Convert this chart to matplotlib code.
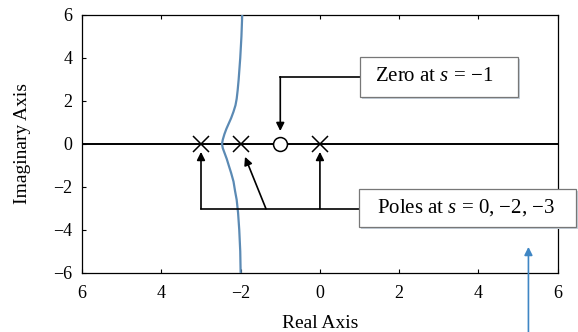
import matplotlib
matplotlib.use("Agg")
import matplotlib.pyplot as plt
from matplotlib.patches import Rectangle
from matplotlib.transforms import ScaledTranslation

plt.rcParams["font.family"] = ["Liberation Serif", "DejaVu Serif"]
plt.rcParams["mathtext.fontset"] = "custom"
plt.rcParams["mathtext.rm"] = "Liberation Serif"
plt.rcParams["mathtext.it"] = "Liberation Serif:italic"

# open-loop poles and zero
poles = [0, -2, -3]
zeros = [-1]

# root locus branches (real, imag)
upper_re = [-2.47, -2.45, -2.41, -2.36, -2.30, -2.24, -2.18, -2.13, -2.10, -2.075, -2.05, -2.01, -1.98, -1.96]
upper_im = [0.0, 0.2, 0.45, 0.7, 0.95, 1.2, 1.5, 1.8, 2.1, 2.5, 3.0, 4.0, 5.0, 6.0]
lower_re = [-2.47, -2.45, -2.40, -2.35, -2.30, -2.24, -2.18, -2.14, -2.10, -2.065, -2.035, -2.01, -2.00]
lower_im = [0.0, -0.2, -0.45, -0.7, -1.0, -1.35, -1.75, -2.2, -2.6, -3.2, -4.0, -5.0, -6.0]

xticks = [-6, -4, -2, 0, 2, 4, 6]
xtick_labels = ["6", "4", "\u22122", "0", "2", "4", "6"]
yticks = [-6, -4, -2, 0, 2, 4, 6]
ytick_labels = ["\u22126", "\u22124", "\u22122", "0", "2", "4", "6"]

locus_color = "#5b8ab4"
arrow_blue = "#3f86c4"

fig = plt.figure(figsize=(5.78, 3.32), dpi=100)
ax = fig.add_axes([0.142, 0.178, 0.823, 0.777])

ax.axhline(0, color="black", lw=1.4, zorder=2)
ax.plot(upper_re, upper_im, color=locus_color, lw=1.6, zorder=3)
ax.plot(lower_re, lower_im, color=locus_color, lw=1.6, zorder=3)

ax.plot(poles, [0] * len(poles), linestyle="none", marker="x", ms=11,
        mew=1.1, color="black", zorder=5)
ax.plot(zeros, [0] * len(zeros), linestyle="none", marker="o", ms=10,
        mew=1.1, mfc="white", mec="black", zorder=5)

ax.set_xlim(-6, 6)
ax.set_ylim(-6, 6)
ax.set_xticks(xticks)
ax.set_xticklabels(xtick_labels)
ax.set_yticks(yticks)
ax.set_yticklabels(ytick_labels)
ax.tick_params(direction="in", length=3, width=0.8, labelsize=13,
               top=True, right=False)
ax.tick_params(axis="x", pad=9)
ax.tick_params(axis="y", pad=7)
for sp in ax.spines.values():
    sp.set_linewidth(0.9)

ax.set_xlabel("Real Axis", fontsize=14, labelpad=9)
ax.set_ylabel("Imaginary Axis", fontsize=14, labelpad=16)

arrow_kw = dict(arrowstyle="-|>", color="black", lw=1.2, mutation_scale=12,
                shrinkA=0, shrinkB=0)


def callout(x0, x1, y0, y1, tx, text):
    # shaded shadow, then white box, then the label
    shadow = Rectangle((x0, y0), x1 - x0, y1 - y0, fc="#c8d2dc", ec="none",
                       zorder=6, clip_on=False)
    shadow.set_transform(ax.transData + ScaledTranslation(
        2 / 100, -2 / 100, fig.dpi_scale_trans))
    ax.add_patch(shadow)
    ax.add_patch(Rectangle((x0, y0), x1 - x0, y1 - y0, fc="white",
                           ec="#777777", lw=0.9, zorder=7, clip_on=False))
    ax.text(tx, (y0 + y1) / 2, text, fontsize=15, ha="left", va="center",
            zorder=8, clip_on=False)


# zero callout
callout(1.01, 5.0, 2.19, 4.05, 1.38, "Zero at $s$ = \u22121")
ax.plot([-1.0, 1.01], [3.12, 3.12], color="black", lw=1.2, zorder=4)
ax.annotate("", xy=(-1.0, 0.6), xytext=(-1.0, 3.12), arrowprops=arrow_kw, zorder=4)

# poles callout
callout(0.98, 6.45, -3.86, -2.09, 1.43, "Poles at $s$ = 0, \u22122, \u22123")
ax.plot([-3.0, 0.98], [-3.02, -3.02], color="black", lw=1.2, zorder=4)
ax.annotate("", xy=(-3.0, -0.37), xytext=(-3.0, -3.02), arrowprops=arrow_kw, zorder=4)
ax.annotate("", xy=(0.0, -0.37), xytext=(0.0, -3.02), arrowprops=arrow_kw, zorder=4)
ax.annotate("", xy=(-1.89, -0.6), xytext=(-1.36, -3.02), arrowprops=arrow_kw, zorder=4)

# blue pointer coming up from below the figure
ax.annotate("", xy=(5.26, -4.79), xycoords="data",
            xytext=(5.26, 0.0), textcoords=("data", "figure fraction"),
            arrowprops=dict(arrowstyle="-|>", color=arrow_blue, lw=1.2,
                            mutation_scale=12, shrinkA=0, shrinkB=0),
            annotation_clip=False)

fig.savefig("out.png", dpi=100)
